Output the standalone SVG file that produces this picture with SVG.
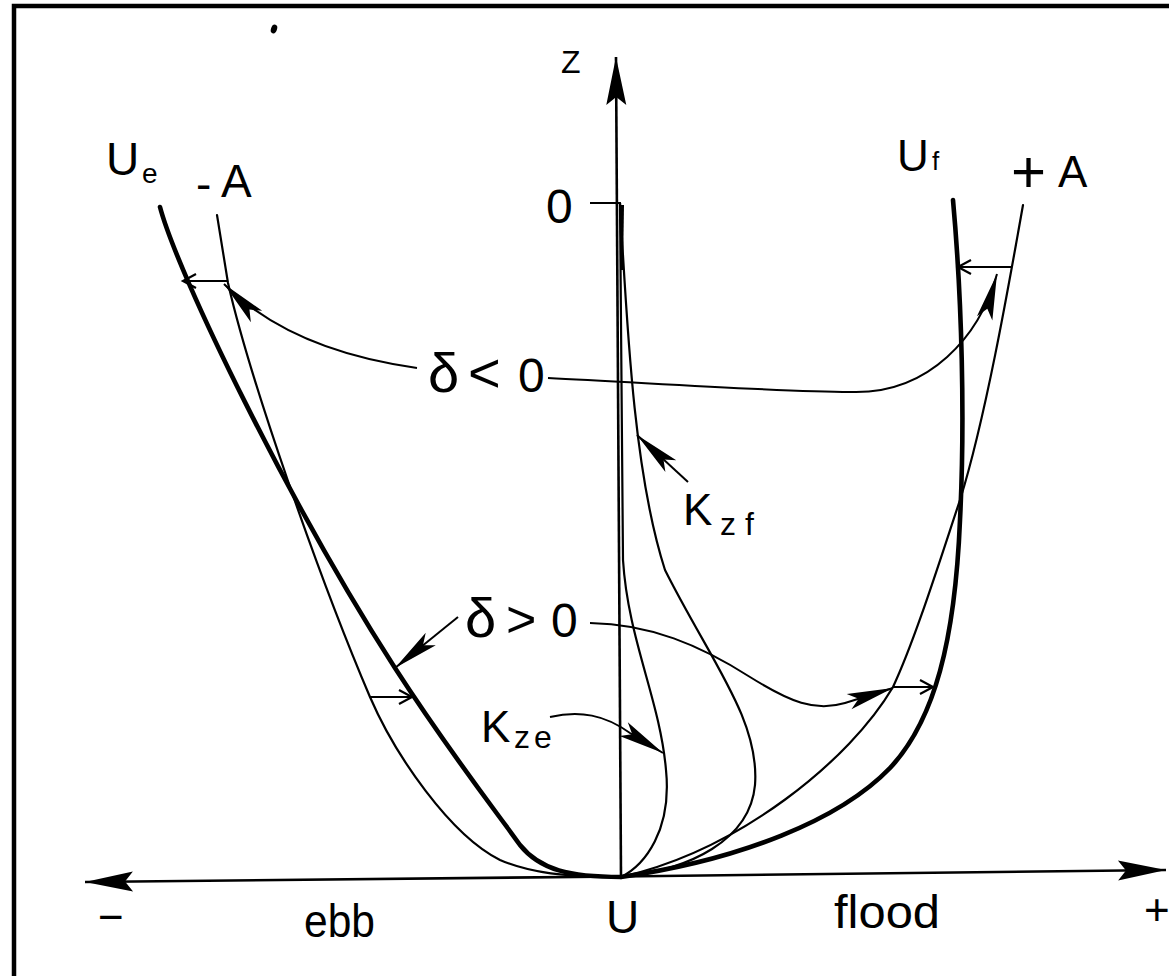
<svg xmlns="http://www.w3.org/2000/svg" width="1169" height="976" viewBox="0 0 1169 976">
<style>
.thin{fill:none;stroke:#000;stroke-width:2.2;stroke-linecap:round;stroke-linejoin:round}
.thick{fill:none;stroke:#000;stroke-width:4.6;stroke-linecap:round;stroke-linejoin:round}
.ax{fill:none;stroke:#000;stroke-width:2.6}
.con{fill:none;stroke:#000;stroke-width:2}
text{font-family:"Liberation Sans","DejaVu Sans",sans-serif;fill:#000}
</style>
<defs>
<marker id="axh" markerUnits="userSpaceOnUse" orient="auto" markerWidth="50" markerHeight="22" refX="48" refY="10" overflow="visible"><path d="M48,10 L0,0 L8,10 L0,20 Z" fill="#000"/></marker>
<marker id="barb" markerUnits="userSpaceOnUse" orient="auto" markerWidth="48" markerHeight="18" refX="46" refY="8" overflow="visible"><path d="M46,8 L0,0 L10,8 L0,16 Z" fill="#000"/></marker>
<marker id="vee" markerUnits="userSpaceOnUse" orient="auto" markerWidth="16" markerHeight="16" refX="13" refY="7" overflow="visible"><path d="M0,0 L13,7 L0,14" fill="none" stroke="#000" stroke-width="2.2"/></marker>
</defs>

<g id="frame">
<path d="M14,976 V6 H1169" fill="none" stroke="#000" stroke-width="4.5"/>
<ellipse cx="274" cy="29" rx="3" ry="4.5" transform="rotate(20 274 29)" fill="#000"/>
</g>

<g id="axes">
<path class="ax" d="M621,877 L616,57" marker-end="url(#axh)"/>
<path class="ax" d="M621,876.5 L85,882" marker-end="url(#axh)"/>
<path class="ax" d="M621,876.5 L1166,870" marker-end="url(#axh)"/>
<path class="con" d="M590,203 L620,203"/>
</g>

<g id="profile-Ue">
<path class="thick" d="M160,207 C178,275 290,505 395,668 C450,753 495,810 520,845 C540,870 570,877 621,877"/>
</g>
<g id="profile-minusA">
<path class="thin" d="M217,215 L228,283 C250,380 320,580 370,697 C395,755 450,835 500,860 C530,873 565,877 621,877"/>
</g>
<g id="profile-Uf">
<path class="thick" d="M953,200 C962,300 965,420 960,520 C955,640 935,720 890,768 C840,820 740,860 621,877"/>
</g>
<g id="profile-plusA">
<path class="thin" d="M1023,205 C1008,290 985,420 960,500 C940,560 915,640 893,687 C850,760 740,850 621,877"/>
</g>
<g id="profile-Kzf">
<path class="thin" d="M620,203 C628,350 636,480 665,570 C710,660 760,720 755,785 C750,840 690,870 621,877"/>
</g>
<g id="profile-Kze">
<path class="thin" d="M620,203 L623,560 C628,640 660,700 666,770 C672,830 645,865 621,877"/>
<path d="M619,205 L624,205 L623,270 L621,270 Z" fill="#000"/>
</g>

<g id="connectors">
<path class="con" d="M228,281 L183,281" marker-end="url(#vee)"/>
<path class="con" d="M1012,267 L958,267" marker-end="url(#vee)"/>
<path class="con" d="M370,697 L412,697" marker-end="url(#vee)"/>
<path class="con" d="M893,687 L933,687" marker-end="url(#vee)"/>
<path class="con" d="M417,368 C345,358 275,335 224,284" marker-end="url(#barb)"/>
<path class="con" d="M548,378 C650,383 780,392 850,392 C930,395 980,335 997,274" marker-end="url(#barb)"/>
<path class="con" d="M458,617 L395,668" marker-end="url(#barb)"/>
<path class="con" d="M590,623 C650,624 700,645 750,677 C790,702 815,712 845,703 L893,688" marker-end="url(#barb)"/>
<path class="con" d="M550,717 C580,710 605,715 630,733 L663,753" marker-end="url(#barb)"/>
<path class="con" d="M688,482 L637,435" marker-end="url(#barb)"/>
</g>

<g id="labels">
<text x="561" y="73" font-size="32">Z</text>
<text x="546" y="223" font-size="48">0</text>
<text x="106" y="175" font-size="46">U</text>
<text x="142" y="183" font-size="28">e</text>
<text x="196" y="200" font-size="46">-</text>
<text x="221" y="197" font-size="46">A</text>
<text x="897" y="171" font-size="44">U</text>
<text x="932" y="170" font-size="26">f</text>
<text x="1011" y="192" font-size="60">+</text>
<text x="1058" y="187" font-size="44">A</text>
<text y="392"><tspan x="428" font-size="56">δ</tspan><tspan x="468" font-size="56">&lt;</tspan><tspan x="518" font-size="48">0</tspan></text>
<text y="637"><tspan x="465" font-size="56">δ</tspan><tspan x="506" font-size="52">&gt;</tspan><tspan x="551" font-size="48">0</tspan></text>
<text x="481" y="742" font-size="44">K</text>
<text y="748" font-size="32"><tspan x="514">z</tspan><tspan x="534">e</tspan></text>
<text x="683" y="525" font-size="44">K</text>
<text y="535" font-size="32"><tspan x="720">z</tspan><tspan x="745">f</tspan></text>
<text x="98" y="932" font-size="44">−</text>
<text x="304" y="937" font-size="46" textLength="71" lengthAdjust="spacingAndGlyphs">ebb</text>
<text x="606" y="933" font-size="46">U</text>
<text x="834" y="928" font-size="46" textLength="106" lengthAdjust="spacingAndGlyphs">flood</text>
<text x="1144" y="925" font-size="44">+</text>
</g>
</svg>
